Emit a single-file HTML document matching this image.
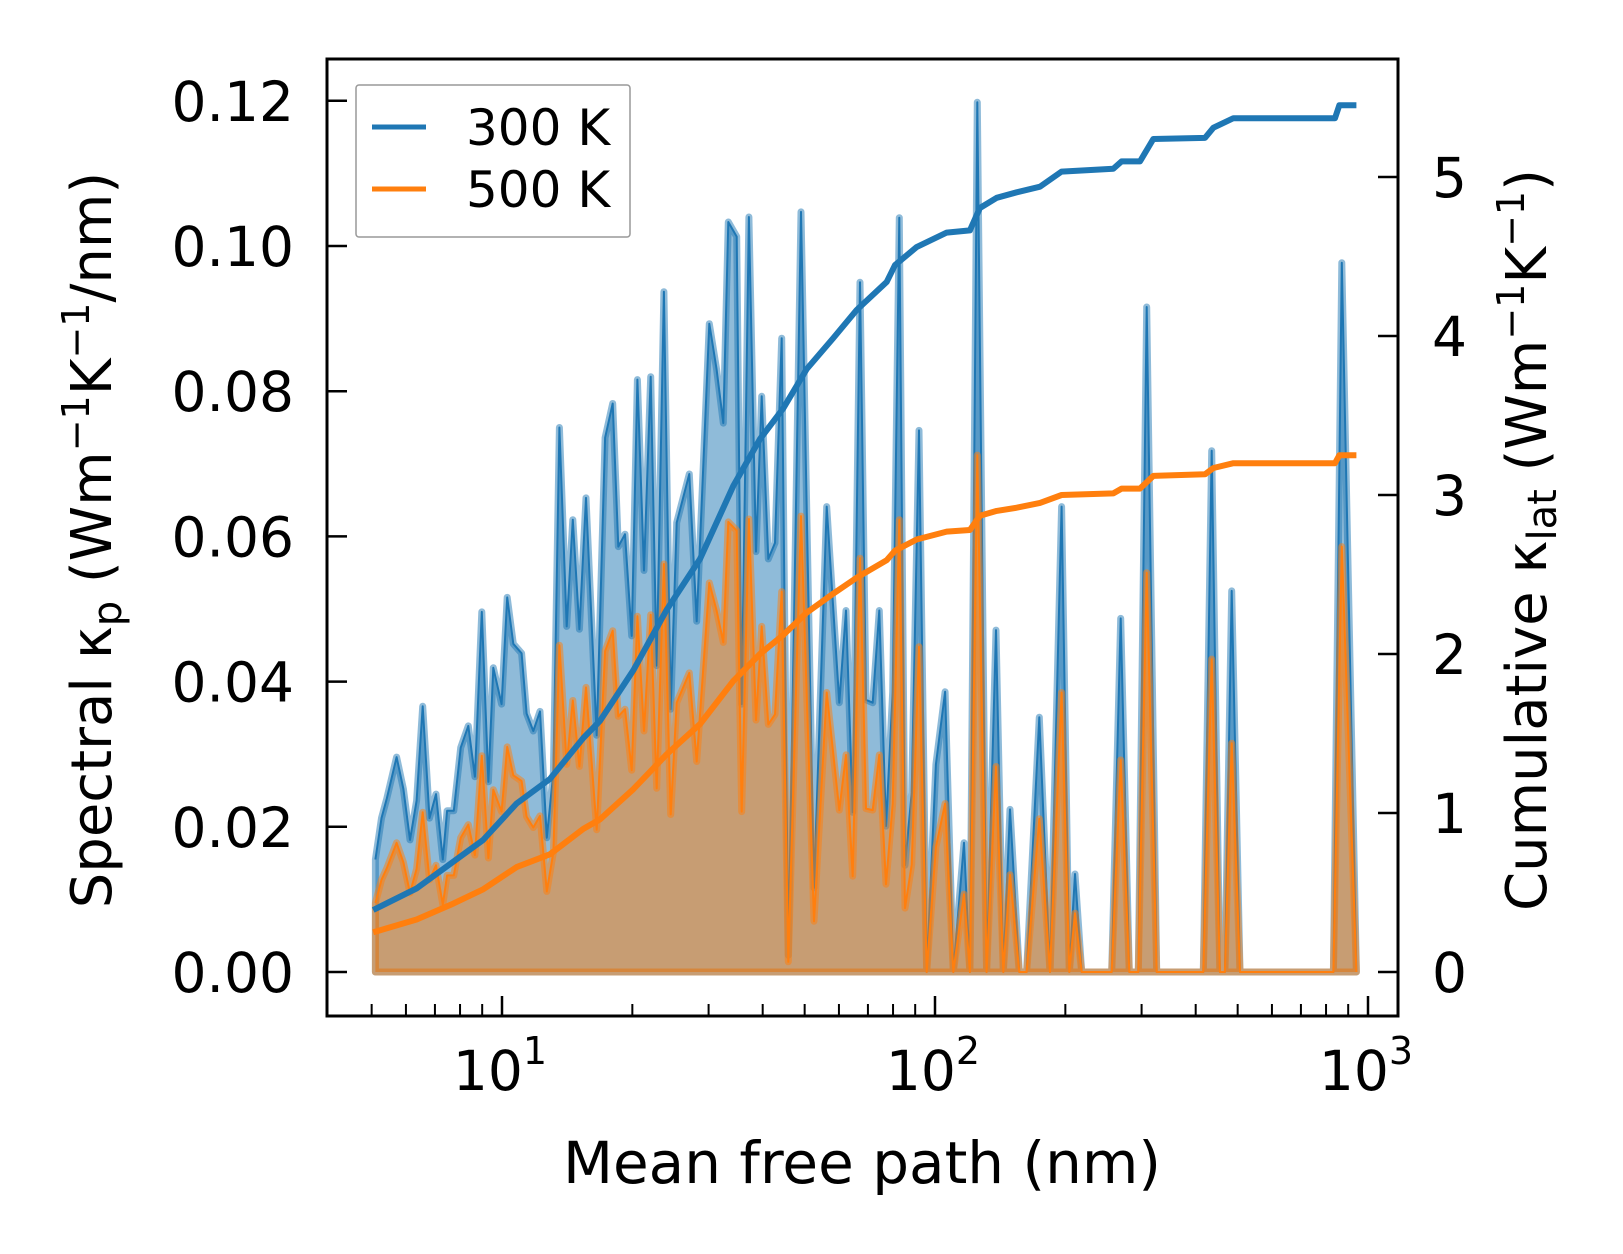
<!DOCTYPE html>
<html><head><meta charset="utf-8"><style>
html,body{margin:0;padding:0;background:#fff;}
svg{display:block;font-family:"DejaVu Sans","Liberation Sans",sans-serif;}
</style></head><body>
<svg id="chart" width="1623" height="1254" viewBox="0 0 1623 1254" xmlns="http://www.w3.org/2000/svg">
<rect width="1623" height="1254" fill="#fff"/>
<g id="marks"></g>
<g id="axes"></g>
<text x="862" y="1183" font-size="58" text-anchor="middle">Mean free path (nm)</text>
<text transform="translate(111,540) rotate(-90)" font-size="56" text-anchor="middle">Spectral κ<tspan font-size="40" dy="10">p</tspan><tspan dy="-10"> (Wm</tspan><tspan font-size="38" dy="-22">−1</tspan><tspan dy="22">K</tspan><tspan font-size="38" dy="-22">−1</tspan><tspan dy="22">/nm)</tspan></text>
<text transform="translate(1546,540) rotate(-90)" font-size="56" text-anchor="middle">Cumulative κ<tspan font-size="40" dy="10">lat</tspan><tspan dy="-10"> (Wm</tspan><tspan font-size="38" dy="-22">−1</tspan><tspan dy="22">K</tspan><tspan font-size="38" dy="-22">−1</tspan><tspan dy="22">)</tspan></text>
<g>
<rect x="356" y="85" width="274" height="152" fill="#fff" fill-opacity="0.8" stroke="#999" stroke-width="1.5" rx="3"/>
<line x1="372" y1="127" x2="426" y2="127" stroke="#1f77b4" stroke-width="5"/>
<text x="466" y="145" font-size="50">300 K</text>
<line x1="372" y1="189" x2="426" y2="189" stroke="#ff7f0e" stroke-width="5"/>
<text x="466" y="207" font-size="50">500 K</text>
</g>
</svg>
<script>
const mfp = [5.10,5.27,5.42,5.71,5.92,6.13,6.35,6.56,6.80,7.04,
7.30,7.47,7.74,8.03,8.36,8.66,8.98,9.30,9.55,9.98,
10.28,10.62,11.10,11.40,11.81,12.24,12.69,13.14,13.57,14.11,
14.57,15.09,15.63,16.55,17.30,18.02,18.56,19.23,19.93,20.54,
21.28,22.05,22.77,23.66,24.52,25.32,27.08,28.16,30.11,31.31,
32.44,33.31,34.83,35.77,37.18,38.60,39.79,41.21,42.71,44.26,
45.84,49.03,52.56,56.22,60.12,62.30,64.56,67.11,69.28,71.79,
74.37,77.06,79.85,82.73,85.27,88.36,91.84,95.67,100.5,105.5,
110.2,116.7,120.4,125.2,131.6,138.3,143.8,149.0,156.6,162.8,
174.1,184.3,196.1,204.2,210.5,218.2,255.9,268.5,281.0,294.8,
308.3,325.1,416.6,435.5,455.0,467.3,484.3,506.3,831.8,870,940];
const spec300 = [.0155,.0212,.0239,.0296,.0252,.0182,.0236,.0366,.0212,.0245,
.0155,.0222,.0222,.0309,.0339,.0269,.0496,.0262,.0419,.0369,
.0516,.0452,.0439,.0356,.0332,.0359,.0185,.0275,.0750,.0476,
.0623,.0472,.0653,.0326,.0736,.0783,.0586,.0603,.0463,.0816,
.0553,.0820,.0422,.0937,.0362,.0619,.0686,.0483,.0893,.0830,
.0756,.1033,.1013,.0369,.1040,.0579,.0793,.0569,.0591,.0873,
.0023,.1047,.0116,.0641,.0371,.0498,.0220,.0950,.0375,.0371,
.0498,.0201,.0386,.1039,.0147,.0247,.0746,0,.0286,.0386,
0,.0178,0,.1198,0,.0471,0,.0224,0,0,
.0351,0,.0641,0,.0135,0,0,.0487,0,0,
.0916,0,0,.0718,0,0,.0525,0,0,.0977,0];
const spec500 = [.0095,.0127,.0143,.0178,.0151,.0109,.0142,.0220,.0127,.0147,
.0093,.0133,.0133,.0185,.0203,.0161,.0298,.0157,.0251,.0221,
.0310,.0271,.0263,.0214,.0199,.0215,.0111,.0165,.0450,.0286,
.0374,.0283,.0392,.0196,.0442,.0470,.0352,.0362,.0278,.0490,
.0332,.0492,.0253,.0562,.0217,.0371,.0412,.0290,.0536,.0498,
.0454,.0620,.0608,.0221,.0624,.0347,.0476,.0341,.0355,.0524,
.0014,.0628,.0070,.0385,.0223,.0299,.0132,.0570,.0225,.0223,
.0299,.0121,.0232,.0623,.0088,.0148,.0448,0,.0172,.0232,
0,.0107,0,.0712,0,.0283,0,.0134,0,0,
.0211,0,.0385,0,.0081,0,0,.0292,0,0,
.0550,0,0,.0431,0,0,.0315,0,0,.0586,0];
const cumMfp = [5.04,6.35,7.72,9.05,10.81,12.90,15.41,16.84,20.11,24.02,28.67,34.21,39.43,44.63,50.54,58.24,65.96,77.35,80.83,90.7,106.4,120.4,127.0,138.8,154.4,174.8,196.1,258.1,269.8,297.4,319.3,420.4,439.4,488.7,839,858.5,940];
const cum300 = [.39,.526,.694,.831,1.06,1.214,1.472,1.579,1.898,2.279,2.599,3.057,3.352,3.545,3.792,3.987,4.164,4.34,4.446,4.559,4.65,4.664,4.805,4.869,4.904,4.939,5.034,5.052,5.098,5.098,5.239,5.246,5.31,5.37,5.37,5.451,5.451];
const cum500 = [.25,.33,.43,.52,.66,.74,.90,.96,1.15,1.37,1.56,1.83,2.00,2.12,2.26,2.38,2.48,2.59,2.65,2.72,2.77,2.78,2.87,2.90,2.92,2.95,3.00,3.01,3.04,3.04,3.12,3.13,3.17,3.20,3.20,3.25,3.25];
const leftTicks = [0,0.02,0.04,0.06,0.08,0.10,0.12];
const leftTickLabels = ["0.00","0.02","0.04","0.06","0.08","0.10","0.12"];
const rightTicks = [0,1,2,3,4,5];
const xMajor = [1,2,3];

const NS="http://www.w3.org/2000/svg";
const L=327,R=1398,T=59,B=1016;
function xs(v){return 502+(Math.log10(v)-1)*433;}
function yl(v){return 972-v*7260;}
function yr(v){return 972-v*159;}
function mk(tag,attrs,parent){const e=document.createElementNS(NS,tag);for(const k in attrs)e.setAttribute(k,attrs[k]);parent.appendChild(e);return e;}
const marks=document.getElementById('marks'), axes=document.getElementById('axes');

function spectral(vals,color,name){
  let d='M'+xs(mfp[0]).toFixed(1)+','+yl(0);
  let ld='';
  vals.forEach((v,i)=>{const p=xs(mfp[i]).toFixed(1)+','+yl(v).toFixed(1);d+=' L'+p;ld+=(i?' L':'M')+p;});
  d+=' L'+xs(mfp[mfp.length-1]).toFixed(1)+','+yl(0)+' Z';
  const f=mk('path',{d:d,fill:color,'fill-opacity':0.5,stroke:color,'stroke-opacity':0.5,'stroke-width':7,'stroke-linejoin':'round'},marks);
  
  
  const l=mk('path',{d:ld,fill:'none',stroke:color,'stroke-width':2,'stroke-linejoin':'round'},marks);
  
  
}
function cumul(vals,color,name){
  let d='';
  vals.forEach((v,i)=>{d+=(i?' L':'M')+xs(cumMfp[i]).toFixed(1)+','+yr(v).toFixed(1);});
  const l=mk('path',{d:d,fill:'none',stroke:color,'stroke-width':6,'stroke-linejoin':'round'},marks);
  
  
}
spectral(spec300,'#1f77b4','spectral-300k');
spectral(spec500,'#ff7f0e','spectral-500k');
cumul(cum300,'#1f77b4','cumulative-300k');
cumul(cum500,'#ff7f0e','cumulative-500k');

const frame=mk('rect',{x:L,y:T,width:R-L,height:B-T,fill:'none',stroke:'#000','stroke-width':3},axes);


leftTicks.forEach((v,i)=>{
  const y=yl(v);
  const t=mk('line',{x1:L,x2:L+20,y1:y,y2:y,stroke:'#000','stroke-width':2.5},axes);
  
  
  const tx=mk('text',{x:294,y:y+20,'font-size':55,'text-anchor':'end'},axes);
  tx.textContent=leftTickLabels[i];
  
  
});
rightTicks.forEach(v=>{
  const y=yr(v);
  const t=mk('line',{x1:R-20,x2:R,y1:y,y2:y,stroke:'#000','stroke-width':2.5},axes);
  
  
  const tx=mk('text',{x:1432,y:y+20,'font-size':55},axes);
  tx.textContent=String(v);
  
  
});
xMajor.forEach(e=>{
  const x=xs(Math.pow(10,e));
  const t=mk('line',{x1:x,x2:x,y1:B,y2:B-20,stroke:'#000','stroke-width':2.5},axes);
  
  
  const tx=mk('text',{x:x-2,y:1090,'font-size':55,'text-anchor':'middle'},axes);
  
  
  tx.textContent='10';
  const sup=mk('tspan',{'font-size':38,dy:-26},tx);
  sup.textContent=String(e);
});
[0,1,2].forEach(e=>{
  for(let m=2;m<=9;m++){
    const x=xs(m*Math.pow(10,e));
    if(x<=L+4||x>=R-2)continue;
    const t=mk('line',{x1:x,x2:x,y1:B,y2:B-12,stroke:'#000','stroke-width':2},axes);
    
    
  }
});
</script>
</body></html>
